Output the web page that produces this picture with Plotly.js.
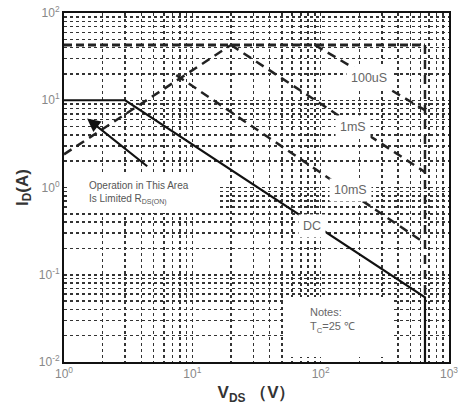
<!DOCTYPE html>
<html>
<head>
<meta charset="utf-8">
<script src="https://cdn.plot.ly/plotly-3.0.1.min.js"></script>
<style>html,body{margin:0;padding:0;background:#fff;}#chart{width:459px;height:410px;}</style>
</head>
<body>
<div id="chart"></div>
<script>
// Data (V in volts, I in amperes)
const pulseLimitV = [1, 650];
const pulseLimitI = [43, 43];
const vdssV = [650, 650];
const vdssI = [43, 0.055];
const rdsV = [1, 20];
const rdsI = [2.4, 43];
const us100V = [90, 650];
const us100I = [43, 7.7];
const ms1V = [20, 650];
const ms1I = [43, 1.5];
const ms10V = [7.5, 650];
const ms10I = [19.4, 0.23];
const dcV = [1, 3, 650, 650];
const dcI = [10, 10, 0.055, 0.01];

const xTickVals = [1, 10, 100, 1000];
const xTickText = ['10<sup>0</sup>', '10<sup>1</sup>', '10<sup>2</sup>', '10<sup>3</sup>'];
const yTickVals = [0.01, 0.1, 1, 10, 100];
const yTickText = ['10<sup>-2</sup>', '10<sup>-1</sup>', '10<sup>0</sup>', '10<sup>1</sup>', '10<sup>2</sup>'];

const dashLine = {color: '#222', width: 2.5, dash: '9px,6px'};
function tr(x, y, line) {
  return {x: x, y: y, type: 'scatter', mode: 'lines', line: line, hoverinfo: 'skip', showlegend: false};
}
const traces = [
  tr(pulseLimitV, pulseLimitI, {color: '#222', width: 3, dash: '8px,4px'}),
  tr(vdssV, vdssI, dashLine),
  tr(rdsV, rdsI, dashLine),
  tr(us100V, us100I, dashLine),
  tr(ms1V, ms1I, dashLine),
  tr(ms10V, ms10I, dashLine),
  tr(dcV, dcI, {color: '#111', width: 2.2})
];

const gridStyle = {gridcolor: '#333', griddash: 'dot', gridwidth: 1.5};
const labelFont = {family: 'Liberation Sans, Arial, sans-serif', size: 12.5, color: '#666'};
function lab(text, lx, ly) {
  return {text: text, x: lx, y: ly, xref: 'x', yref: 'y', showarrow: false,
          font: labelFont, bgcolor: '#fff', borderpad: 4};
}

const layout = {
  width: 459, height: 410,
  margin: {l: 64, r: 10, t: 13, b: 48},
  paper_bgcolor: '#fff', plot_bgcolor: '#fff',
  font: {family: 'Liberation Sans, Arial, sans-serif'},
  xaxis: Object.assign({
    type: 'log', range: [0, 3], tickvals: xTickVals, ticktext: xTickText,
    tickfont: {size: 12, color: '#888'}, ticks: '', showline: true, mirror: true,
    linecolor: '#111', linewidth: 2, zeroline: false,
    minor: Object.assign({dtick: 'D1', showgrid: true}, gridStyle),
    title: {text: 'V<sub>DS</sub> （V）', font: {size: 17, color: '#333', family: 'Liberation Sans, Arial, sans-serif', weight: 'bold'}, standoff: 6}
  }, gridStyle),
  yaxis: Object.assign({
    type: 'log', range: [-2, 2], tickvals: yTickVals, ticktext: yTickText,
    tickfont: {size: 12, color: '#888'}, ticks: '', showline: true, mirror: true,
    linecolor: '#111', linewidth: 2, zeroline: false,
    minor: Object.assign({dtick: 'D1', showgrid: true}, gridStyle),
    title: {text: 'I<sub>D</sub>(A)', font: {size: 17, color: '#333', family: 'Liberation Sans, Arial, sans-serif', weight: 'bold'}, standoff: 6}
  }, gridStyle),
  shapes: [
    {type: 'rect', xref: 'paper', yref: 'paper', layer: 'above',
     x0: (67-64)/385, x1: (220-64)/385, y0: (362-213)/349, y1: (362-172)/349,
     fillcolor: '#fff', line: {width: 0}},
    {type: 'rect', xref: 'paper', yref: 'paper', layer: 'above',
     x0: (286-64)/385, x1: (392-64)/385, y0: (362-357)/349, y1: (362-297)/349,
     fillcolor: '#fff', line: {width: 0}}
  ],
  annotations: [
    lab('100uS', 2.38, 1.25),
    lab('1mS', 2.25, 0.69),
    lab('10mS', 2.23, -0.03),
    lab('DC', 1.93, -0.44),
    {text: 'Operation in This Area<br>Is Limited R<sub>DS(ON)</sub>', x: 0.18, y: -0.06, xref: 'x', yref: 'y',
     xanchor: 'left', align: 'left', showarrow: false,
     font: {family: 'Liberation Sans, Arial, sans-serif', size: 10, color: '#555'}},
    {text: 'Notes:<br>T<sub>C</sub>=25 ℃', x: 1.90, y: -1.52, xref: 'x', yref: 'y',
     xanchor: 'left', align: 'left', showarrow: false,
     font: {family: 'Liberation Sans, Arial, sans-serif', size: 11, color: '#666'}},
    {text: '', x: 0.18, y: 0.79, xref: 'x', yref: 'y', axref: 'x', ayref: 'y',
     ax: 0.66, ay: 0.23, showarrow: true, arrowhead: 2, arrowsize: 1.2, arrowwidth: 2.2, arrowcolor: '#111'}
  ]
};

Plotly.newPlot('chart', traces, layout, {staticPlot: true, displayModeBar: false});
</script>
</body>
</html>
